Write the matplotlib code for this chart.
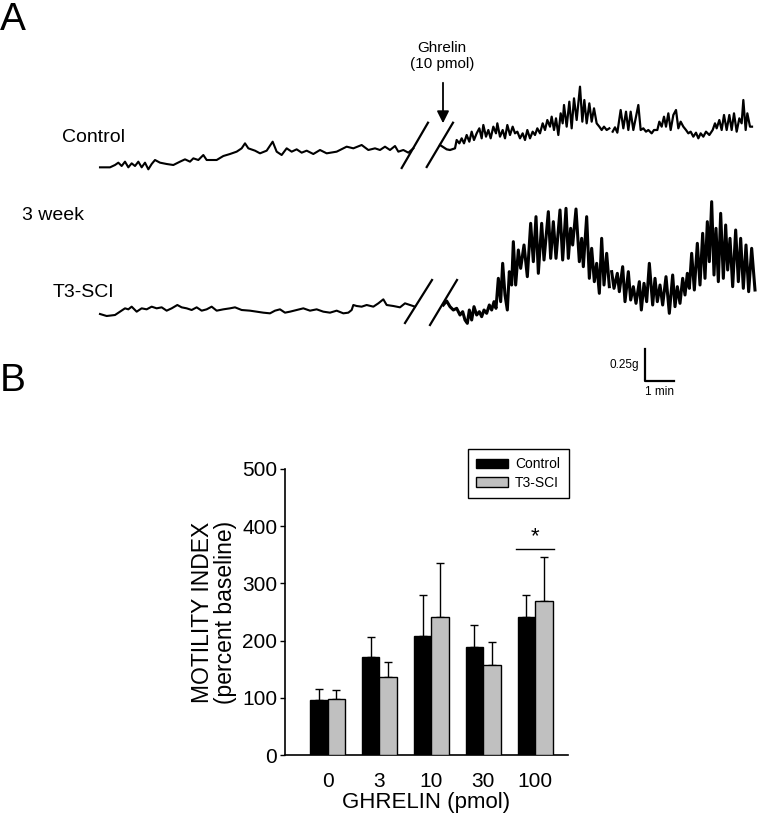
import numpy as np
import matplotlib
matplotlib.use('Agg')
from matplotlib import pyplot as plt
from matplotlib.patches import Patch

plt.rcParams['font.family'] = ['Liberation Sans', 'DejaVu Sans']

# ---- panel B data (motility index, % baseline) ----
doses = ['0', '3', '10', '30', '100']
control_mean = [96, 171, 208, 189, 241]
control_sem = [19, 35, 71, 39, 39]
sci_mean = [98, 136, 241, 157, 269]
sci_sem = [15, 26, 94, 41, 78]
sig_level = 361  # bracket over the 100 pmol group

# ---- panel A: traces digitized from the chart recording ----
# readings are in chart units (1/3 px of the page), per crop origin (px)
ctrl_pre_origin = (90, 80)
ctrl_pre = [(30, 262), (60, 262), (75, 255), (85, 248), (95, 258), (105, 245), (115, 262), (125, 250),
            (135, 258), (145, 245), (155, 262), (165, 248), (175, 268), (185, 252), (195, 240), (210, 248),
            (230, 252), (250, 255), (270, 245), (285, 238), (300, 245), (310, 235), (325, 240), (340, 225),
            (350, 240), (380, 240), (400, 228), (420, 222), (440, 215), (455, 205), (465, 190), (475, 205),
            (495, 212), (510, 220), (530, 212), (548, 185), (560, 215), (575, 225), (590, 205), (605, 215),
            (620, 208), (635, 218), (650, 212), (670, 222), (690, 210), (710, 220), (740, 215), (770, 200),
            (790, 205), (815, 195), (835, 210), (855, 205), (870, 210), (885, 200), (900, 210), (915, 198),
            (925, 215), (940, 210), (955, 218), (970, 205)]
ctrl_post_a_origin = (450, 80)
ctrl_post_a = [(-30, 195), (-10, 208), (0, 210), (15, 205), (20, 180), (28, 190), (35, 175), (42, 190),
               (50, 165), (58, 185), (65, 155), (72, 180), (80, 160), (88, 145), (95, 175), (100, 135),
               (108, 170), (115, 150), (122, 175), (130, 140), (138, 160), (142, 130), (150, 170), (158, 150),
               (165, 175), (172, 135), (180, 165), (188, 140), (195, 160), (202, 155), (210, 175), (218, 160),
               (225, 180), (232, 150), (240, 175), (248, 155), (255, 165), (262, 145), (270, 160), (278, 130),
               (285, 150), (292, 120), (300, 140), (305, 110), (312, 150), (318, 115), (325, 165), (332, 100),
               (338, 130), (342, 75), (350, 140), (358, 65), (365, 145), (372, 55), (380, 120), (390, 20),
               (397, 125), (403, 60), (410, 130), (418, 70), (425, 125), (432, 85), (440, 130), (448, 140),
               (455, 150), (462, 140), (470, 150), (478, 145)]
ctrl_post_b_origin = (600, 80)
ctrl_post_b = [(38, 155), (45, 142), (52, 158), (62, 90), (70, 145), (78, 95), (85, 150), (92, 95),
               (100, 150), (108, 110), (115, 75), (122, 150), (130, 145), (138, 155), (145, 150), (155, 160),
               (162, 150), (172, 150), (178, 125), (185, 140), (192, 110), (198, 140), (205, 100), (212, 150),
               (220, 105), (228, 90), (235, 145), (242, 125), (250, 140), (258, 150), (265, 160), (272, 155),
               (280, 170), (288, 158), (295, 175), (302, 160), (310, 170), (318, 155), (328, 165), (338, 150),
               (345, 130), (350, 145), (358, 120), (365, 150), (372, 105), (380, 150), (388, 105), (395, 150),
               (402, 100), (410, 155), (418, 115), (425, 130), (430, 60), (437, 150), (442, 100), (450, 140),
               (456, 140)]
sci_pre_origin = (90, 190)
sci_pre = [(30, 372), (50, 378), (75, 375), (90, 365), (105, 355), (115, 358), (125, 350), (140, 365),
           (155, 355), (170, 358), (185, 350), (200, 355), (215, 352), (230, 362), (245, 355), (262, 345),
           (275, 352), (290, 355), (305, 360), (320, 352), (335, 362), (350, 358), (365, 350), (380, 362),
           (400, 358), (420, 355), (435, 352), (455, 360), (480, 362), (500, 365), (520, 368), (540, 370),
           (555, 362), (570, 358), (585, 368), (600, 365), (620, 360), (640, 355), (660, 362), (680, 358),
           (700, 365), (720, 368), (740, 362), (760, 370), (775, 368), (785, 360), (790, 345), (800, 348),
           (815, 350), (830, 345), (850, 350), (865, 340), (880, 328), (890, 345), (910, 348), (930, 352),
           (945, 340), (960, 345), (975, 350)]
sci_post_a_origin = (450, 195)
sci_post_a = [(-20, 330), (-10, 318), (0, 335), (10, 345), (20, 340), (30, 360), (38, 350), (45, 375),
              (52, 385), (58, 345), (65, 375), (72, 335), (80, 360), (88, 350), (95, 365), (102, 345),
              (110, 355), (118, 330), (125, 345), (132, 320), (138, 340), (145, 250), (152, 320), (158, 205),
              (165, 300), (172, 345), (178, 230), (185, 270), (190, 140), (197, 270), (205, 165), (212, 220),
              (222, 150), (232, 245), (242, 85), (250, 200), (258, 65), (265, 235), (275, 85), (282, 195),
              (295, 50), (302, 190), (310, 80), (318, 190), (330, 45), (338, 195), (348, 40), (355, 190),
              (362, 100), (368, 150), (378, 42), (388, 200), (395, 130), (400, 215), (410, 65), (418, 250),
              (425, 160), (433, 260), (440, 205), (448, 295), (455, 130), (462, 270), (470, 175), (478, 275)]
sci_post_b_origin = (600, 195)
sci_post_b = [(35, 230), (42, 280), (52, 235), (58, 290), (68, 215), (75, 320), (85, 230), (92, 315),
              (100, 275), (108, 325), (118, 260), (124, 345), (132, 265), (140, 320), (148, 205), (158, 330),
              (165, 250), (172, 320), (180, 270), (188, 330), (198, 245), (208, 355), (218, 240), (225, 335),
              (232, 275), (240, 325), (248, 250), (255, 300), (262, 235), (268, 280), (275, 175), (283, 285),
              (292, 145), (300, 270), (308, 115), (315, 250), (322, 80), (328, 200), (335, 20), (342, 240),
              (348, 100), (355, 260), (362, 55), (370, 250), (377, 90), (383, 225), (390, 130), (398, 275),
              (407, 105), (415, 260), (422, 130), (430, 280), (438, 150), (446, 290), (455, 160), (465, 285)]

# calibration from the scale bar
PX_PER_MIN = 29.0
PX_PER_G = 128.0
T0_PX = 100.0
W, H = 758, 830

fig = plt.figure(figsize=(W / 100, H / 100), dpi=100)

# ---------------- panel A ----------------
top_h = 400
axA = fig.add_axes([0, 1 - top_h / H, 1, top_h / H])
axA.set_xlim(-T0_PX / PX_PER_MIN, (W - T0_PX) / PX_PER_MIN)
axA.set_ylim(-top_h / PX_PER_G, 0)
axA.axis('off')


def to_data(px, py):
	return (px - T0_PX) / PX_PER_MIN, -py / PX_PER_G


def trace(origin, readings):
	zx, zy = np.array(readings, dtype=float).T
	return to_data(origin[0] + zx / 3, origin[1] + zy / 3)


for org, rd, lw in [(ctrl_pre_origin, ctrl_pre, 1.5), (ctrl_post_a_origin, ctrl_post_a, 1.6),
					(ctrl_post_b_origin, ctrl_post_b, 1.6), (sci_pre_origin, sci_pre, 1.5),
					(sci_post_a_origin, sci_post_a, 2.2), (sci_post_b_origin, sci_post_b, 2.2)]:
	t, g = trace(org, rd)
	axA.plot(t, g, color='black', lw=lw, solid_joinstyle='round')

# break marks
for (x1, y1, x2, y2) in [(401.7, 168, 428, 122.7), (426.7, 167, 453, 122.7),
						 (405, 323, 432, 280), (430, 325, 457, 280)]:
	a = to_data(x1, y1)
	b = to_data(x2, y2)
	axA.plot([a[0], b[0]], [a[1], b[1]], color='black', lw=1.6)

# scale bar 0.25 g / 1 min
sx, sy = to_data(645, 381)
axA.plot([sx, sx, sx + 1.0], [sy + 0.25, sy, sy], color='black', lw=1.6)
axA.text(sx - 0.2, sy + 0.125, '0.25g', ha='right', va='center', fontsize=8.5)
axA.text(sx + 0.5, sy - 0.04, '1 min', ha='center', va='top', fontsize=8.5)

# arrow for ghrelin
a = to_data(443, 80)
b = to_data(443, 126)
axA.annotate('', xy=b, xytext=a,
			 arrowprops=dict(arrowstyle='-|>', color='black', lw=1.3, mutation_scale=18))
axA.text(*to_data(442, 56), 'Ghrelin\n(10 pmol)', ha='center', va='center', fontsize=11, linespacing=1.25)

axA.text(*to_data(62, 137), 'Control', ha='left', va='center', fontsize=14)
axA.text(*to_data(22, 215), '3 week', ha='left', va='center', fontsize=14)
axA.text(*to_data(53, 292), 'T3-SCI', ha='left', va='center', fontsize=14)

fig.text(0.0, 1 - 20 / H, 'A', fontsize=28, ha='left', va='center')
fig.text(0.0, 1 - 381 / H, 'B', fontsize=28, ha='left', va='center')

# ---------------- panel B ----------------
left, right, bottom, top = 285, 568, 755, 469
axB = fig.add_axes([left / W, 1 - bottom / H, (right - left) / W, (bottom - top) / H])
x = np.arange(len(doses))
w = 0.337
grey = '#c0c0c0'
zeros = np.zeros(len(doses))
axB.bar(x - w / 2, control_mean, w, color='black', edgecolor='black', lw=1, zorder=3)
axB.bar(x + w / 2, sci_mean, w, color=grey, edgecolor='black', lw=1, zorder=3)
axB.errorbar(x - w / 2, control_mean, yerr=[zeros, control_sem], fmt='none', ecolor='black',
			 elinewidth=1, capsize=3, capthick=1, zorder=2)
axB.errorbar(x + w / 2, sci_mean, yerr=[zeros, sci_sem], fmt='none', ecolor='black',
			 elinewidth=1, capsize=3, capthick=1, zorder=2)

axB.plot([4 - 0.36, 4 + 0.36], [sig_level, sig_level], color='black', lw=1)
axB.text(4, sig_level + 2, '*', ha='center', va='bottom', fontsize=16)

axB.set_xlim(-0.82, 4.635)
axB.set_ylim(0, 500)
axB.set_yticks([0, 100, 200, 300, 400, 500])
axB.set_xticks(x)
axB.set_xticklabels(doses)
axB.spines['top'].set_visible(False)
axB.spines['right'].set_visible(False)
axB.spines['left'].set_linewidth(1.2)
axB.spines['bottom'].set_linewidth(1.2)
axB.tick_params(axis='y', direction='out', length=3.5, width=1, labelsize=15, pad=2)
axB.tick_params(axis='x', length=0, labelsize=15, pad=12)
axB.set_xlabel('GHRELIN (pmol)', fontsize=16, labelpad=1)
axB.set_ylabel('MOTILITY INDEX\n(percent baseline)', fontsize=16.5, labelpad=4, linespacing=1.0)

handles = [Patch(facecolor='black', edgecolor='black', lw=1, label='Control'),
		   Patch(facecolor=grey, edgecolor='black', lw=1, label='T3-SCI')]
leg = axB.legend(handles=handles, loc='upper left', bbox_to_anchor=(468 / W, 1 - 449 / H),
				 bbox_transform=fig.transFigure, borderaxespad=0, fontsize=10, fancybox=False,
				 frameon=True, handlelength=2.3, handleheight=0.7, labelspacing=0.3, borderpad=0.6,
				 handletextpad=0.5)
leg.get_frame().set_edgecolor('black')
leg.get_frame().set_linewidth(1)
leg.get_frame().set_alpha(1)

fig.savefig('out.png', dpi=100)
